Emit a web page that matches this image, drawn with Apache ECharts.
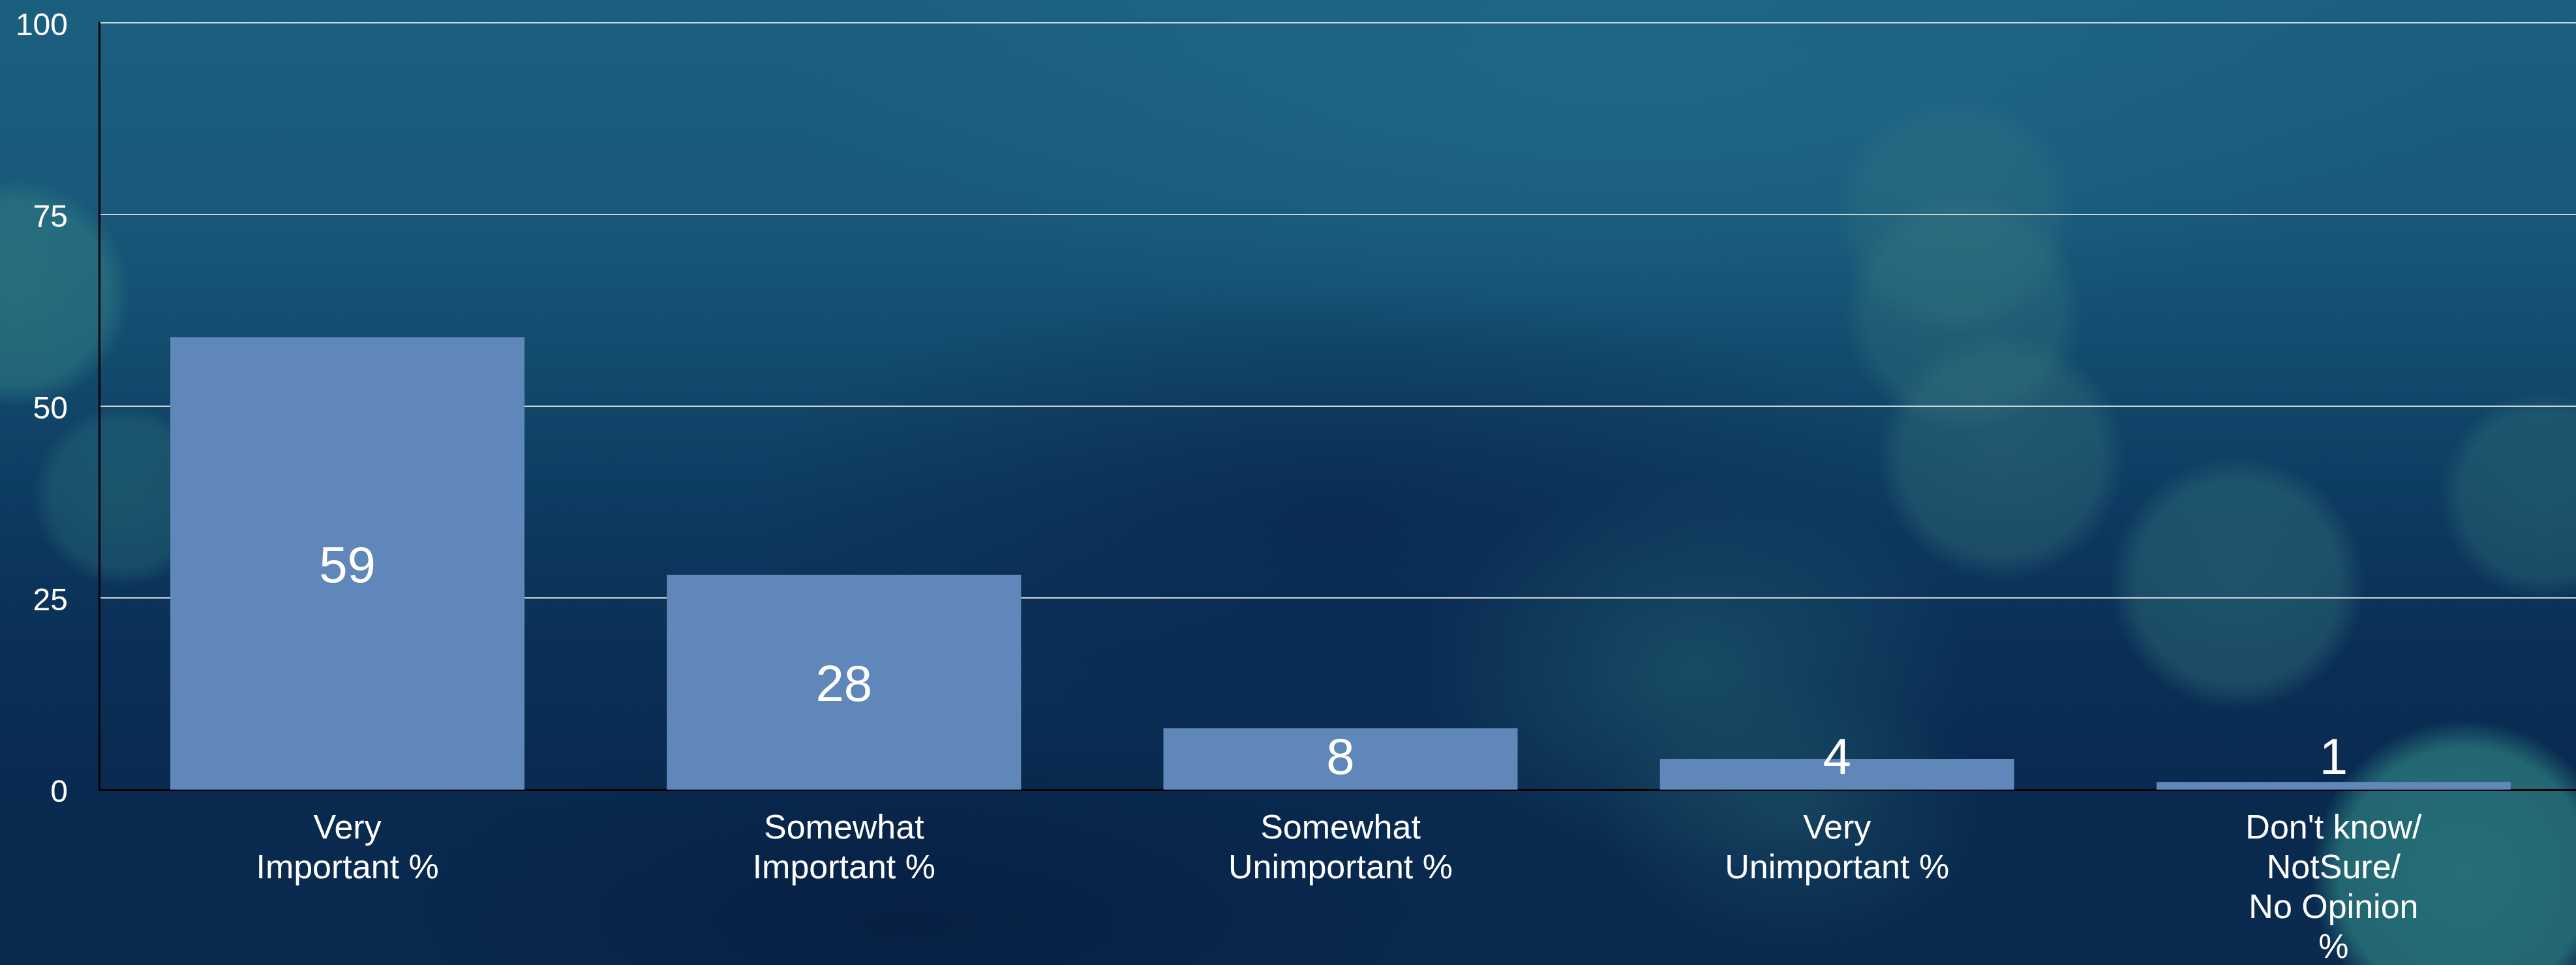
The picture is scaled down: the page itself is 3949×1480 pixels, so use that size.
<!DOCTYPE html>
<html>
<head>
<meta charset="utf-8">
<script src="https://cdn.jsdelivr.net/npm/echarts@6/dist/echarts.min.js"></script>
<style>
html,body{margin:0;padding:0;width:3949px;height:1480px;overflow:hidden;}
#bg{position:absolute;left:0;top:0;width:3949px;height:1480px;
background:
 radial-gradient(circle 235px at 3778px 1340px, rgba(45,128,128,0.8) 0, rgba(45,128,128,0.7) 82%, rgba(45,128,128,0) 100%),
 radial-gradient(circle 195px at 3430px 894px, rgba(55,120,125,0.45) 0, rgba(55,120,125,0.38) 80%, rgba(55,120,125,0) 100%),
 radial-gradient(circle 190px at 3068px 700px, rgba(60,120,125,0.40) 0, rgba(60,120,125,0.33) 80%, rgba(60,120,125,0) 100%),
 radial-gradient(circle 185px at 3010px 478px, rgba(60,125,130,0.35) 0, rgba(60,125,130,0.28) 80%, rgba(60,125,130,0) 100%),
 radial-gradient(circle 185px at 2997px 330px, rgba(60,125,130,0.30) 0, rgba(60,125,130,0.22) 80%, rgba(60,125,130,0) 100%),
 radial-gradient(circle 160px at 3900px 760px, rgba(55,120,125,0.40) 0, rgba(55,120,125,0.32) 80%, rgba(55,120,125,0) 100%),
 radial-gradient(circle 175px at 25px 450px, rgba(50,128,132,0.6) 0, rgba(50,128,132,0.5) 80%, rgba(50,128,132,0) 100%),
 radial-gradient(circle 140px at 190px 760px, rgba(45,115,125,0.45) 0, rgba(45,115,125,0.35) 80%, rgba(45,115,125,0) 100%),
 radial-gradient(ellipse 420px 300px at 2600px 1030px, rgba(40,110,120,0.45) 0, rgba(40,110,120,0) 100%),
 radial-gradient(ellipse 300px 200px at 2750px 1250px, rgba(40,105,115,0.35) 0, rgba(40,105,115,0) 100%),
 radial-gradient(ellipse 1300px 420px at 2500px 120px, rgba(35,115,145,0.45) 0, rgba(35,115,145,0) 100%),
 radial-gradient(ellipse 900px 350px at 2050px 780px, rgba(8,32,70,0.55) 0, rgba(8,32,70,0) 100%),
 radial-gradient(ellipse 900px 300px at 1400px 1420px, rgba(5,25,60,0.6) 0, rgba(5,25,60,0) 100%),
 linear-gradient(180deg, #1b5f7f 0px, #19597a 300px, #124a6c 560px, #0d3a60 780px, #0a2f56 1000px, #09294f 1250px, #0a2a50 1480px);
}
#chart{position:absolute;left:0;top:0;width:3949px;height:1480px;}
</style>
</head>
<body>
<div id="bg"></div>
<div id="chart"></div>
<script>
const categories = ["Very\nImportant %", "Somewhat\nImportant %", "Somewhat\nUnimportant %", "Very\nUnimportant %", "Don't know/\nNotSure/\nNo Opinion\n%"];
const values = [59, 28, 8, 4, 1];
const yTicks = { min: 0, max: 100, interval: 25 };

const chart = echarts.init(document.getElementById('chart'), null, { renderer: 'canvas' });
const font = "'Liberation Sans', Arial, sans-serif";

chart.setOption({
  backgroundColor: 'transparent',
  animation: false,
  grid: { left: 152, right: -9, top: 35, bottom: 269, containLabel: false, outerBoundsMode: 'none' },
  xAxis: {
    type: 'category',
    data: categories,
    axisLine: { show: true, lineStyle: { color: '#000', width: 3 } },
    axisTick: { show: false },
    axisLabel: {
      color: '#fff', fontSize: 52, fontFamily: font, lineHeight: 61,
      margin: 30, interval: 0, align: 'center', verticalAlign: 'top'
    }
  },
  yAxis: {
    type: 'value',
    min: yTicks.min, max: yTicks.max, interval: yTicks.interval,
    axisLine: { show: true, lineStyle: { color: '#000', width: 3 } },
    axisTick: { show: false },
    splitLine: { show: true, lineStyle: { color: '#cfd3d6', width: 2 } },
    axisLabel: {
      margin: 48,
      formatter: '{t|{value}}',
      rich: { t: { color: '#fff', fontSize: 48, fontFamily: font, padding: [12, 0, 0, 0] } }
    }
  },
  series: [{
    type: 'bar',
    barWidth: 543,
    itemStyle: { color: '#5f87b9' },
    data: values.map(v => ({
      value: v,
      label: v >= 20 ? { position: 'inside', offset: [0, 7] } : { position: 'insideBottom', distance: 7 }
    })),
    label: {
      show: true, color: '#fff', fontSize: 78, fontFamily: font, lineHeight: 78
    }
  }]
});
</script>
</body>
</html>
